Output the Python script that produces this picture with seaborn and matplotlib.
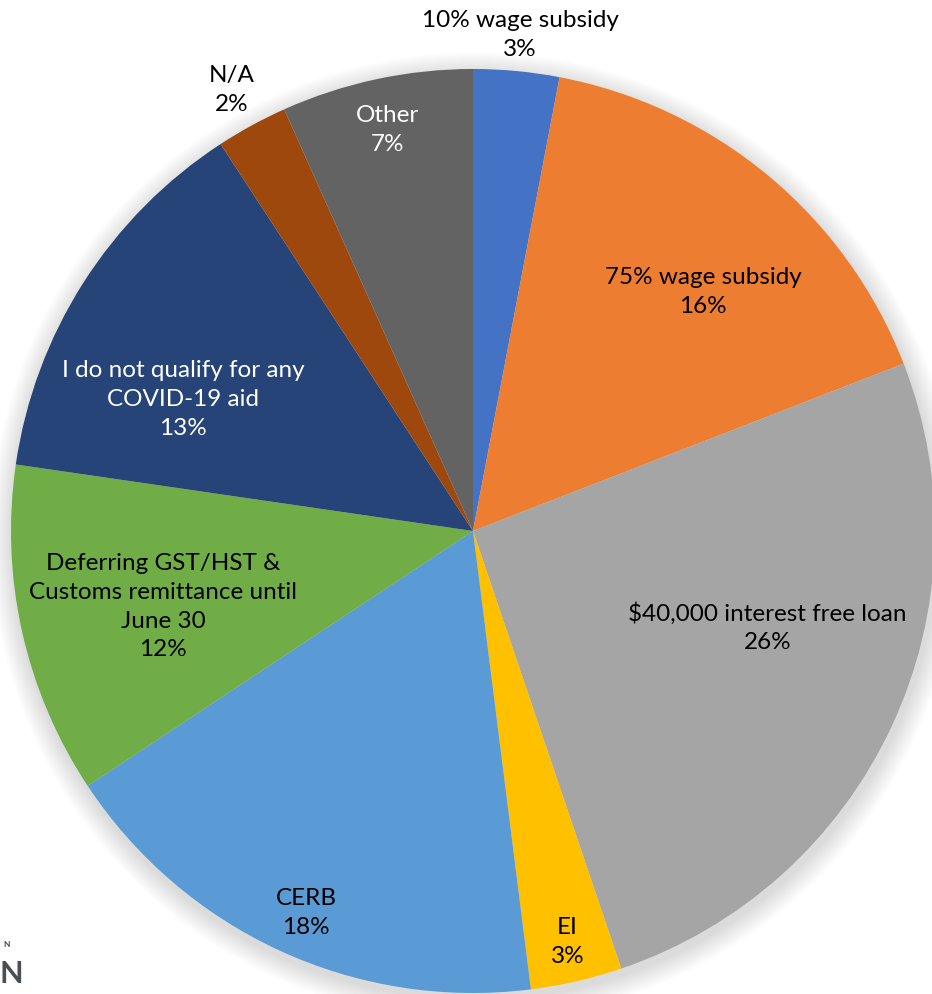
import numpy as np
import matplotlib.pyplot as plt
import seaborn as sns

# slice labels, read clockwise from 12 o'clock
labels = ["10% wage subsidy", "75% wage subsidy", "$40,000 interest free loan", "EI",
          "CERB", "Deferring GST/HST &\nCustoms remittance until\nJune 30",
          "I do not qualify for any\nCOVID-19 aid", "N/A", "Other"]
shares = [3.0, 16.1, 25.7, 3.2, 17.7, 11.6, 13.5, 2.5, 6.7]
pct_text = ["3%", "16%", "26%", "3%", "18%", "12%", "13%", "2%", "7%"]

colors = ["#4472C4", "#ED7D31", "#A5A5A5", "#FFC000", "#5B9BD5",
          "#70AD47", "#264478", "#9E480E", "#636363"]
text_colors = ["black", "black", "black", "black", "black", "black", "white", "black", "white"]
# where each label sits: fraction of radius, nudge of angle (deg, clockwise)
label_r = [1.08, 0.72, 0.67, 0.91, 0.90, 0.69, 0.69, 1.09, 0.89]
label_nudge = [0, 4, -7, 0, -1, -1, -8, 0, 0]

sns.set_theme(style="white")
plt.rcParams['font.family'] = ['Lato', 'DejaVu Sans']

W, H = 932, 995
cx, cy, R = 473, 532, 462
fig = plt.figure(figsize=(W / 100, H / 100), dpi=100)
ax = fig.add_axes([0, 0, 1, 1])

# soft shadow round the pie
for k in range(12):
    ax.add_patch(plt.Circle((0.004, -0.012), 1.0 + 0.004 * (12 - k),
                            color="#000000", alpha=0.012, lw=0, zorder=0))

ax.pie(shares, colors=colors, startangle=90, counterclock=False, radius=1.0,
       wedgeprops=dict(linewidth=0), normalize=True)

ax.set_xlim(-cx / R, (W - cx) / R)
ax.set_ylim(-(H - cy) / R, cy / R)
ax.set_aspect("equal")
ax.axis("off")

total = sum(shares)
cum = 0.0
for i, s in enumerate(shares):
    mid = (cum + s / 2) / total * 360 + label_nudge[i]
    cum += s
    a = np.deg2rad(90 - mid)
    x, y = label_r[i] * np.cos(a), label_r[i] * np.sin(a)
    ax.text(x, y, labels[i] + "\n" + pct_text[i], ha="center", va="center",
            fontsize=17.5, color=text_colors[i], linespacing=1.45, zorder=5)

# cropped logo in the corner
fig.text(0.004, 0.048, "N", fontsize=6, color="#4a4f57", fontweight="bold")
fig.text(0.0, 0.012, "N", fontsize=22, color="#4a4f57", fontweight="bold")

fig.savefig("out.png", dpi=100)
